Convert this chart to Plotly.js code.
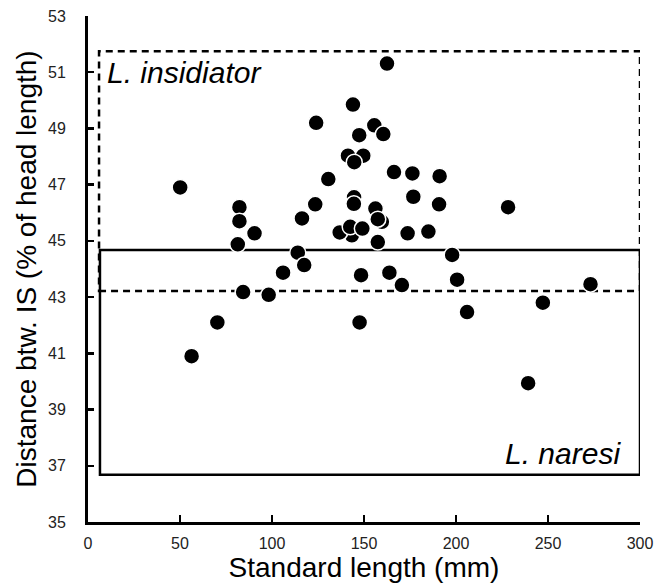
<!DOCTYPE html>
<html>
<head>
<meta charset="utf-8">
<script src="https://cdn.plot.ly/plotly-3.0.1.min.js"></script>
<style>html,body{margin:0;padding:0;background:#fff;}#chart{width:665px;height:584px;}</style>
</head>
<body>
<div id="chart"></div>
<script>
// Standard length (mm) and distance between IS (% of head length)
// partially hidden points are listed first so they are drawn underneath
const standardLength = [144.6, 143.4, 159.7, 141.3, 149.6, 155.6,
  50.1, 56.3, 70.3, 81.4, 82.3, 82.3, 84.3, 90.5, 98.2, 106.0, 114.0, 116.3, 117.5,
  123.5, 124.0, 130.6, 136.8, 142.5, 144.0, 144.5, 144.7, 147.4, 147.6, 148.4, 149.1,
  156.2, 157.5, 157.5, 160.5, 162.5, 163.8, 166.3, 170.6, 173.7, 176.3, 176.8, 185.0,
  190.8, 191.1, 197.9, 200.6, 206.0, 228.3, 239.2, 247.2, 273.1];
const distanceIS = [46.55, 45.2, 45.68, 48.03, 48.03, 49.11,
  46.9, 40.9, 42.1, 44.88, 46.2, 45.7, 43.18, 45.27, 43.08, 43.87, 44.58, 45.8, 44.14,
  46.3, 49.2, 47.2, 45.3, 45.5, 49.85, 46.32, 47.8, 48.76, 42.1, 43.78, 45.44,
  46.15, 45.77, 44.96, 48.8, 51.31, 43.87, 47.45, 43.43, 45.27, 47.4, 46.57, 45.33,
  46.3, 47.3, 44.5, 43.62, 42.47, 46.2, 39.94, 42.8, 43.46];

// Species ranges: [x0, x1, y0, y1]
const insidiatorRange = [6, 300, 43.22, 51.75];
const naresiRange = [6.5, 300, 36.68, 44.68];
const xTicks = [0, 50, 100, 150, 200, 250, 300];
const yTicks = [35, 37, 39, 41, 43, 45, 47, 49, 51, 53];

const trace = {
  type: 'scatter', mode: 'markers',
  x: standardLength, y: distanceIS,
  marker: {size: 16, color: '#000', line: {color: '#fff', width: 1.5}},
  hoverinfo: 'x+y', showlegend: false
};

const font = 'Arial, "Liberation Sans", sans-serif';
const layout = {
  width: 665, height: 584,
  margin: {l: 88, r: 25, t: 16, b: 62},
  paper_bgcolor: '#fff', plot_bgcolor: '#fff',
  font: {family: font, color: '#000'},
  xaxis: {
    range: [0, 300], tickvals: xTicks, ticktext: xTicks.map(String),
    showgrid: false, zeroline: false, showline: true, linecolor: '#000', linewidth: 3,
    ticks: 'inside', ticklen: 7, tickwidth: 2.5, tickcolor: '#000',
    tickfont: {size: 16, family: font, color: '#222'},
    ticklabelstandoff: 5,
    title: {text: 'Standard length (mm)', font: {size: 28, family: font, color: '#000'}, standoff: 4}
  },
  yaxis: {
    range: [35, 53], tickvals: yTicks, ticktext: yTicks.map(String),
    showgrid: false, zeroline: false, showline: true, linecolor: '#000', linewidth: 3,
    ticks: 'inside', ticklen: 6, tickwidth: 2.5, tickcolor: '#000',
    tickfont: {size: 16, family: font, color: '#222'},
    ticklabelstandoff: 16,
    title: {text: 'Distance btw. IS (% of head length)', font: {size: 28, family: font, color: '#000'}, standoff: 4}
  },
  shapes: [
    {type: 'rect', xref: 'x', yref: 'y', layer: 'below',
     x0: insidiatorRange[0], x1: insidiatorRange[1], y0: insidiatorRange[2], y1: insidiatorRange[3],
     line: {color: '#000', width: 2.5, dash: '7px,5px'}},
    {type: 'rect', xref: 'x', yref: 'y', layer: 'below',
     x0: naresiRange[0], x1: naresiRange[1], y0: naresiRange[2], y1: naresiRange[3],
     line: {color: '#000', width: 2.5}}
  ],
  annotations: [
    {xref: 'x', yref: 'y', x: 9.5, y: 51.0, xanchor: 'left', yanchor: 'middle', showarrow: false,
     text: '<i>L. insidiator</i>', font: {size: 30, family: font, color: '#000'}},
    {xref: 'x', yref: 'y', x: 290.5, y: 37.45, xanchor: 'right', yanchor: 'middle', showarrow: false,
     text: '<i>L. naresi</i>', font: {size: 30, family: font, color: '#000'}}
  ]
};

Plotly.newPlot('chart', [trace], layout, {displayModeBar: false, staticPlot: true});
</script>
</body>
</html>
